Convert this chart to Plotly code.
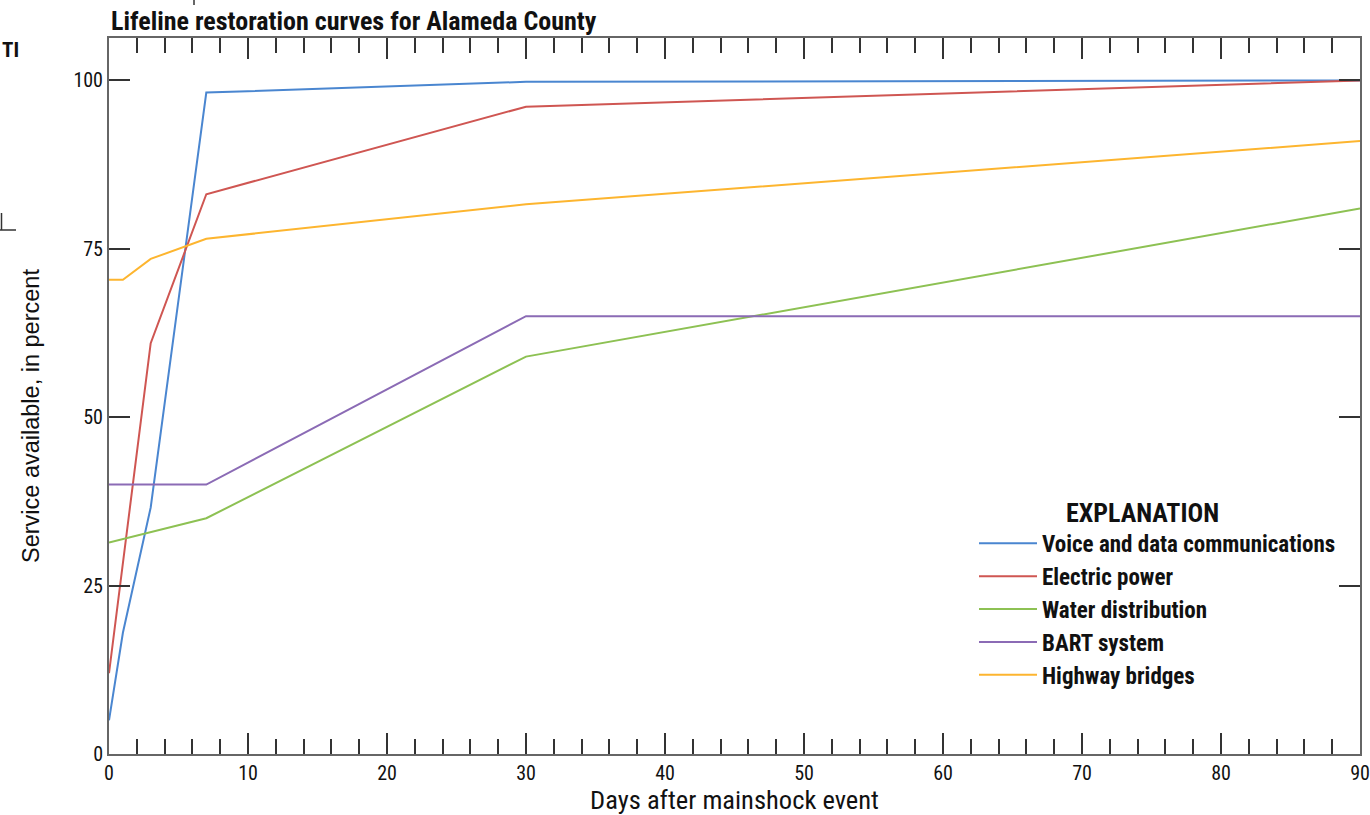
import plotly.graph_objects as go

# Days after the mainshock at which each curve has a vertex
voice_days = [0, 1, 3, 7, 30, 90]
voice_pct = [5, 18, 36.6, 98.2, 99.8, 100]

power_days = [0, 3, 7, 30, 90]
power_pct = [12, 61, 83.1, 96.1, 100]

water_days = [0, 7, 30, 90]
water_pct = [31.4, 35, 59, 81]

bart_days = [0, 7, 30, 90]
bart_pct = [40, 40, 65, 65]

bridge_days = [0, 1, 3, 7, 30, 90]
bridge_pct = [70.4, 70.4, 73.5, 76.5, 81.6, 91]

series = [
    ("Voice and data communications", voice_days, voice_pct, "#4a86d0"),
    ("Electric power", power_days, power_pct, "#cf5652"),
    ("Water distribution", water_days, water_pct, "#8dc153"),
    ("BART system", bart_days, bart_pct, "#8b6bb5"),
    ("Highway bridges", bridge_days, bridge_pct, "#fdb52f"),
]

x_ticks = [0, 10, 20, 30, 40, 50, 60, 70, 80, 90]
y_ticks = [0, 25, 50, 75, 100]

COND = "Roboto Condensed, Liberation Sans Narrow, sans-serif"
PLAIN = "Liberation Sans, Arial, sans-serif"

PW, PH = 1251, 716  # plot area size in px


def px_x(px):
    return (px - 109) / PW


def px_y(py):
    return (754 - py) / PH


fig = go.Figure()
for name, xs, ys, color in series:
    fig.add_trace(go.Scatter(
        x=xs, y=ys, mode="lines", name=name,
        line=dict(color=color, width=2),
    ))

fig.update_layout(
    width=1370, height=815,
    margin=dict(l=109, r=10, t=38, b=61, autoexpand=False),
    paper_bgcolor="white", plot_bgcolor="white",
    font=dict(family=COND, color="#111111", size=20),
    showlegend=True,
    legend=dict(
        x=px_x(974), y=px_y(488), xanchor="left", yanchor="top",
        bgcolor="rgba(0,0,0,0)",
        font=dict(family=COND, size=23, color="#111111", weight="bold"),
        title=dict(text="<b>EXPLANATION</b>" + "\u00a0" * 5, side="top center",
                   font=dict(family=COND, size=26, color="#111111")),
        tracegroupgap=0, itemwidth=58,
    ),
    annotations=[
        dict(text="<b>Lifeline restoration curves for Alameda County</b>",
             xref="paper", yref="paper", x=0, y=1, xanchor="left", yanchor="bottom",
             yshift=0, showarrow=False,
             font=dict(family=COND, size=26, color="#111111")),
        dict(text="<b>TI</b>", xref="paper", yref="paper", x=px_x(0), y=px_y(50),
             xanchor="left", yanchor="middle", showarrow=False,
             font=dict(family=COND, size=21, color="#111111")),
        dict(text="Service available, in percent", textangle=-90,
             xref="paper", yref="paper", x=px_x(31), y=px_y(416),
             xanchor="center", yanchor="middle", showarrow=False,
             font=dict(family=PLAIN, size=23.5, color="#111111")),
    ],
    shapes=[
        dict(type="line", xref="paper", yref="paper",
             x0=px_x(0), x1=px_x(16), y0=px_y(230), y1=px_y(230),
             line=dict(color="#333333", width=1.5)),
        dict(type="line", xref="paper", yref="paper",
             x0=px_x(1.5), x1=px_x(1.5), y0=px_y(230), y1=px_y(213),
             line=dict(color="#333333", width=1.5)),
        dict(type="line", xref="paper", yref="paper",
             x0=px_x(194), x1=px_x(194), y0=px_y(5), y1=px_y(0),
             line=dict(color="#333333", width=1.5)),
    ],
)

fig.update_xaxes(
    range=[0, 90], tickvals=x_ticks, ticktext=[str(v) for v in x_ticks],
    showgrid=False, zeroline=False, automargin=False,
    showline=True, linecolor="#666666", linewidth=2, mirror="allticks",
    ticks="inside", ticklen=21, tickwidth=2, tickcolor="#333333",
    minor=dict(dtick=2, tick0=0, ticks="inside", ticklen=15, tickwidth=1.5, tickcolor="#333333"),
    tickfont=dict(family=COND, size=20, color="#111111"),
    title=dict(text="Days after mainshock event", standoff=1,
               font=dict(family=COND, size=26.5, color="#111111")),
)
fig.update_yaxes(
    range=[0, 106.3], tickvals=y_ticks, ticktext=[str(v) for v in y_ticks],
    showgrid=False, zeroline=False, automargin=False,
    showline=True, linecolor="#666666", linewidth=2, mirror="allticks",
    ticks="inside", ticklen=21, tickwidth=1.5, tickcolor="#333333",
    tickfont=dict(family=COND, size=20, color="#111111"),
)

fig.write_html("out.html")
